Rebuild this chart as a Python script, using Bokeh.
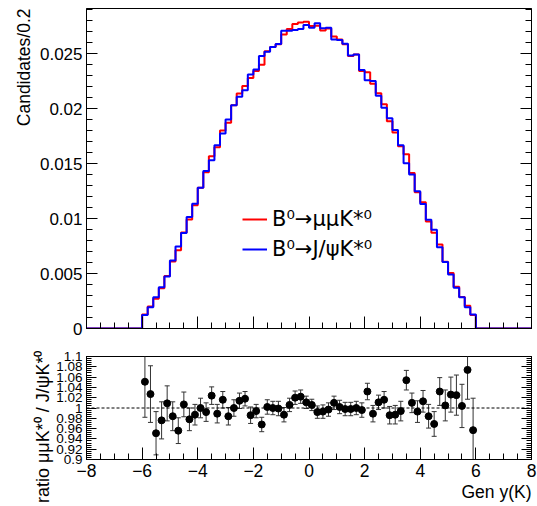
import numpy as np
from bokeh.plotting import figure
from bokeh.layouts import column
from bokeh.models import (FixedTicker, CustomJSTickFormatter, LinearAxis, Span, Title,
                          Legend, LegendItem, ColumnDataSource, Range1d)
from bokeh.embed import file_html
from bokeh.resources import INLINE

# ---------------- data ----------------
bin_low = -8.0
bin_width = 0.2
n_bins = 80
first_filled_bin = 10   # bins below y=-6 are empty

# B0 -> J/psi K*0 (blue), normalised candidates per 0.2, bins from -6 to 6
jpsi_vals = [
    0.00122, 0.00194, 0.00285, 0.00376, 0.00474, 0.00619, 0.00745, 0.00868, 0.01014, 0.01135,
    0.01280, 0.01432, 0.01530, 0.01667, 0.01773, 0.01900, 0.02031, 0.02107, 0.02167, 0.02310,
    0.02356, 0.02477, 0.02516, 0.02560, 0.02588, 0.02708, 0.02708, 0.02714, 0.02723, 0.02760,
    0.02735, 0.02775, 0.02730, 0.02735, 0.02629, 0.02623, 0.02590, 0.02483, 0.02492, 0.02350,
    0.02258, 0.02250, 0.02116, 0.02008, 0.01912, 0.01806, 0.01667, 0.01503, 0.01400, 0.01248,
    0.01132, 0.00988, 0.00899, 0.00740, 0.00604, 0.00492, 0.00370, 0.00285, 0.00194, 0.00127]

# B0 -> mu mu K*0 (red)
mumu_vals = [
    0.00128, 0.00199, 0.00271, 0.00367, 0.00478, 0.00609, 0.00712, 0.00874, 0.00992, 0.01120,
    0.01280, 0.01421, 0.01567, 0.01649, 0.01801, 0.01870, 0.02031, 0.02136, 0.02206, 0.02278,
    0.02342, 0.02398, 0.02521, 0.02560, 0.02585, 0.02673, 0.02724, 0.02768, 0.02783, 0.02790,
    0.02751, 0.02753, 0.02711, 0.02727, 0.02655, 0.02628, 0.02585, 0.02478, 0.02492, 0.02341,
    0.02330, 0.02225, 0.02139, 0.02040, 0.01885, 0.01783, 0.01657, 0.01584, 0.01414, 0.01239,
    0.01147, 0.00972, 0.00871, 0.00764, 0.00607, 0.00505, 0.00379, 0.00286, 0.00208, 0.00122]

# ratio mumu / jpsi and its uncertainty
ratio_vals = [
    1.051, 1.027, 0.951, 0.976, 1.009, 0.984, 0.956, 1.007, 0.978, 0.987,
    1.000, 0.992, 1.024, 0.989, 1.016, 0.984, 1.000, 1.014, 1.018, 0.986,
    0.994, 0.968, 1.002, 1.000, 0.999, 0.987, 1.006, 1.020, 1.022, 1.011,
    1.006, 0.992, 0.993, 0.997, 1.010, 1.002, 0.998, 0.998, 1.000, 0.996,
    1.032, 0.989, 1.011, 1.016, 0.986, 0.987, 0.994, 1.054, 1.010, 0.993,
    1.013, 0.984, 0.969, 1.032, 1.005, 1.026, 1.025, 1.004, 1.074, 0.957]
ratio_errs = [
    0.069, 0.055, 0.042, 0.036, 0.034, 0.028, 0.025, 0.024, 0.022, 0.020,
    0.019, 0.018, 0.017, 0.018, 0.016, 0.017, 0.016, 0.015, 0.014, 0.016,
    0.013, 0.014, 0.014, 0.013, 0.014, 0.014, 0.013, 0.013, 0.013, 0.012,
    0.011, 0.012, 0.013, 0.013, 0.013, 0.013, 0.013, 0.013, 0.013, 0.014,
    0.016, 0.016, 0.014, 0.016, 0.017, 0.018, 0.019, 0.019, 0.019, 0.021,
    0.021, 0.023, 0.024, 0.027, 0.030, 0.034, 0.039, 0.042, 0.057, 0.062]

x_ticks = [-8, -6, -4, -2, 0, 2, 4, 6, 8]
top_y_ticks = [0, 0.005, 0.01, 0.015, 0.02, 0.025]
ratio_y_ticks = [0.9, 0.92, 0.94, 0.96, 0.98, 1.0, 1.02, 1.04, 1.06, 1.08, 1.1]

label_mumu = "B\u2070\u2192\u03bc\u03bcK*\u2070"
label_jpsi = "B\u2070\u2192J/\u03c8K*\u2070"
ytitle_top = "Candidates/0.2"
ytitle_bot = "ratio \u03bc\u03bcK*\u2070 / J/\u03c8K*\u2070"
xtitle = "Gen y(K)"

# ---------------- helpers ----------------
FONT = "Liberation Sans"
edges = bin_low + bin_width * np.arange(n_bins + 1)


def full_hist(vals):
    h = np.zeros(n_bins)
    h[first_filled_bin:first_filled_bin + len(vals)] = vals
    return h


def step_xy(h):
    return np.repeat(edges, 2)[1:-1], np.repeat(h, 2)


num_fmt = CustomJSTickFormatter(code="""
const v = Math.round(tick*1e6)/1e6;
return v.toString().replace('-', '\u2212');
""")
blank_fmt = CustomJSTickFormatter(code="return '';")


def add_axis(p, place, ticker, labels, font_size, maj, mnr):
    ax = LinearAxis(ticker=ticker, formatter=num_fmt if labels else blank_fmt)
    ax.major_tick_in = maj
    ax.major_tick_out = 0
    ax.minor_tick_in = mnr
    ax.minor_tick_out = 0
    ax.axis_line_color = "black"
    ax.major_tick_line_color = "black"
    ax.minor_tick_line_color = "black"
    ax.major_label_text_font = FONT
    ax.major_label_text_color = "black"
    if labels:
        ax.major_label_text_font_size = font_size
        ax.major_label_standoff = 4
    else:
        ax.major_label_text_font_size = "1px"
        ax.major_label_standoff = 0
    p.add_layout(ax, place)
    return ax


def add_title(p, place, text, size, standoff, offset=0):
    t = Title(text=text, align="right", offset=offset, standoff=standoff,
              text_font=FONT, text_font_size=size, text_font_style="normal",
              text_color="black")
    p.add_layout(t, place)
    return t


x_ticker = FixedTicker(ticks=x_ticks, minor_ticks=list(np.arange(-8, 8.001, 0.5)))
top_y_ticker = FixedTicker(ticks=top_y_ticks, minor_ticks=list(np.arange(0, 0.0291, 0.001)))
bot_y_ticker = FixedTicker(ticks=ratio_y_ticks, minor_ticks=list(np.arange(0.9, 1.1001, 0.004)))

# ---------------- top panel ----------------
p1 = figure(width=537, height=340, x_range=Range1d(-8, 8), y_range=Range1d(0, 0.0291),
            output_backend="svg", toolbar_location=None, x_axis_type=None, y_axis_type=None,
            min_border_left=86, min_border_right=6, min_border_top=8, min_border_bottom=12)
p1.outline_line_color = "black"
p1.background_fill_color = "white"
p1.border_fill_color = "white"

add_axis(p1, "left", top_y_ticker, True, "17px", 11, 6)
add_axis(p1, "right", top_y_ticker, False, None, 11, 6)
add_axis(p1, "below", x_ticker, False, None, 12, 6)
add_title(p1, "left", ytitle_top, "17.5px", 6)

xr, yr = step_xy(full_hist(mumu_vals))
xb, yb = step_xy(full_hist(jpsi_vals))
r_red = p1.line(xr, yr, line_color="#ff0000", line_width=2)
r_blue = p1.line(xb, yb, line_color="#0000ff", line_width=2)

legend = Legend(items=[LegendItem(label=label_mumu, renderers=[r_red]),
                       LegendItem(label=label_jpsi, renderers=[r_blue])],
                location=(156, 66))
legend.border_line_color = None
legend.background_fill_alpha = 0
legend.padding = 0
legend.margin = 0
legend.spacing = 4
legend.glyph_width = 25
legend.glyph_height = 26
legend.label_height = 26
legend.label_standoff = 5
legend.label_text_font = "DejaVu Sans"
legend.label_text_font_size = "21px"
legend.label_text_color = "black"
p1.add_layout(legend)

# ---------------- bottom (ratio) panel ----------------
p2 = figure(width=537, height=166, x_range=Range1d(-8, 8), y_range=Range1d(0.9, 1.1),
            output_backend="svg", toolbar_location=None, x_axis_type=None, y_axis_type=None,
            min_border_left=86, min_border_right=6, min_border_top=16, min_border_bottom=47)
p2.outline_line_color = "black"
p2.background_fill_color = "white"
p2.border_fill_color = "white"

add_axis(p2, "left", bot_y_ticker, True, "13.5px", 10, 5)
add_axis(p2, "right", bot_y_ticker, False, None, 10, 5)
add_axis(p2, "below", x_ticker, True, "17.5px", 12, 6)
add_title(p2, "left", ytitle_bot, "18px", 2, offset=-6)
add_title(p2, "below", xtitle, "17.5px", 0)

centers = edges[first_filled_bin:first_filled_bin + len(ratio_vals)] + bin_width / 2
rv = np.array(ratio_vals)
re = np.array(ratio_errs)
src = ColumnDataSource(dict(x=centers, y=rv, lo=rv - re, hi=rv + re))

p2.add_layout(Span(location=1.0, dimension="width", line_color="black",
                   line_width=1, line_dash="3 2"))
p2.segment(x0="x", y0="lo", x1="x", y1="hi", source=src, line_color="#333333", line_width=1)
p2.scatter(x="x", y="hi", source=src, marker="dash", size=5, line_color="#333333", line_width=1)
p2.scatter(x="x", y="lo", source=src, marker="dash", size=5, line_color="#333333", line_width=1)
p2.scatter(x="x", y="y", source=src, marker="circle", size=7, fill_color="black", line_color="black")

layout = column(p1, p2, spacing=0)
with open("out.html", "w", encoding="utf-8") as f:
    f.write(file_html(layout, INLINE))
